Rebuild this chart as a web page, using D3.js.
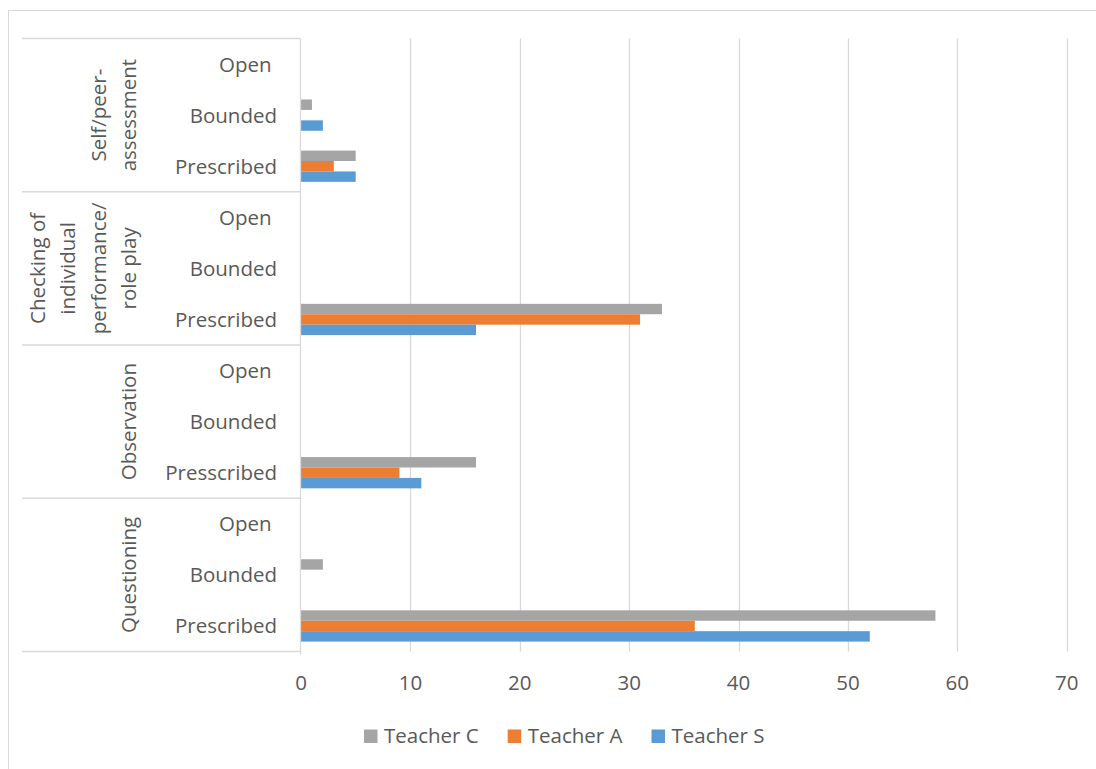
<!DOCTYPE html>
<html>
<head>
<meta charset="utf-8">
<script src="https://cdn.jsdelivr.net/npm/d3@7"></script>
<style>
  html, body { margin: 0; padding: 0; background: #fff; }
  svg { display: block; }
  text { font-family: "Open Sans", sans-serif; fill: #595959; }
</style>
</head>
<body>
<svg id="chart" width="1096" height="769"></svg>
<script>
// ---- data ----
const groupLines = [
  ["Self/peer-", "assessment"],
  ["Checking of", "individual", "performance/", "role play"],
  ["Observation"],
  ["Questioning"]
];
const subLabels = [
  ["Open ", "Bounded", "Prescribed"],
  ["Open ", "Bounded", "Prescribed"],
  ["Open ", "Bounded", "Presscribed"],
  ["Open ", "Bounded", "Prescribed"]
];
const seriesNames = ["Teacher C", "Teacher A", "Teacher S"];
const seriesColors = ["#A5A5A5", "#ED7D31", "#5B9BD5"];
// rows top to bottom: group by group, Open / Bounded / Prescribed
const teacherC = [0, 1, 5, 0, 0, 33, 0, 0, 16, 0, 2, 58];
const teacherA = [0, 0, 3, 0, 0, 31, 0, 0, 9, 0, 0, 36];
const teacherS = [0, 2, 5, 0, 0, 16, 0, 0, 11, 0, 0, 52];
const xTicks = [0, 10, 20, 30, 40, 50, 60, 70];

// ---- build ----
const seriesValues = [teacherC, teacherA, teacherS];
const rows = [];
subLabels.forEach((subs, g) => subs.forEach((s, j) => rows.push({ id: g + "-" + j, g, label: s })));

const svg = d3.select("#chart");
const FS = 20.5;

// chart border (only top and left visible in frame)
svg.append("rect").attr("x", 8.5).attr("y", 10.5).attr("width", 1200).attr("height", 1000)
  .attr("fill", "none").attr("stroke", "#d9d9d9").attr("stroke-width", 1);

const plotTop = 38.5, plotBottom = 651.5, plotLeft = 301, plotRight = 1066.7;
const x = d3.scaleLinear().domain([0, 70]).range([plotLeft, plotRight]);
const y = d3.scaleBand().domain(rows.map(r => r.id)).range([plotTop, plotBottom]).padding(0);
const yInner = d3.scaleBand().domain(seriesNames).range([0, y.bandwidth()]).paddingInner(0).paddingOuter(0.95);

// gridlines
svg.append("g").selectAll("line").data(xTicks.filter(t => t > 0)).join("line")
  .attr("x1", d => Math.round(x(d)) + 0.5).attr("x2", d => Math.round(x(d)) + 0.5)
  .attr("y1", plotTop).attr("y2", plotBottom)
  .attr("stroke", "#d9d9d9").attr("stroke-width", 1.3);

// bars
const bars = svg.append("g");
seriesNames.forEach((name, si) => {
  bars.append("g").selectAll("rect").data(rows.map((r, i) => ({ r, v: seriesValues[si][i] }))).join("rect")
    .attr("x", x(0))
    .attr("y", d => y(d.r.id) + yInner(name))
    .attr("width", d => x(d.v) - x(0))
    .attr("height", yInner.bandwidth())
    .attr("fill", seriesColors[si]);
});

// category axis line
svg.append("line").attr("x1", 300.5).attr("x2", 300.5).attr("y1", plotTop).attr("y2", plotBottom + 3)
  .attr("stroke", "#d9d9d9").attr("stroke-width", 1.3);

// group separators
const groupBounds = d3.range(groupLines.length + 1).map(g => g < groupLines.length ? y(g + "-0") : plotBottom);
svg.append("g").selectAll("line").data(groupBounds).join("line")
  .attr("x1", 22).attr("x2", 300).attr("y1", d => d).attr("y2", d => d)
  .attr("stroke", "#d9d9d9").attr("stroke-width", 1.3);

// sub-category labels
svg.append("g").selectAll("text").data(rows).join("text")
  .attr("x", 277).attr("y", d => y(d.id) + y.bandwidth() / 2 + 7.5)
  .attr("text-anchor", "end").style("white-space", "pre")
  .attr("font-size", FS).text(d => d.label);

// group labels (rotated)
groupLines.forEach((lines, g) => {
  const cy = (groupBounds[g] + groupBounds[g + 1]) / 2;
  const n = lines.length;
  const t = svg.append("text").attr("font-size", FS).attr("text-anchor", "middle")
    .attr("transform", `translate(0,${cy}) rotate(-90)`);
  lines.forEach((ln, i) => {
    t.append("tspan").attr("x", 0).attr("y", 136 - (n - 1 - i) * 30.5).text(ln);
  });
});

// x axis tick labels
svg.append("g").selectAll("text").data(xTicks).join("text")
  .attr("x", d => x(d)).attr("y", 690).attr("text-anchor", "middle")
  .attr("font-size", FS).text(d => d);

// legend
const legend = svg.append("g");
let lx = 364;
seriesNames.forEach((name, i) => {
  legend.append("rect").attr("x", lx).attr("y", 729.5).attr("width", 13.5).attr("height", 13.5).attr("fill", seriesColors[i]);
  const tx = legend.append("text").attr("x", lx + 20).attr("y", 743).attr("font-size", FS).text(name);
  const w = tx.node().getComputedTextLength();
  lx = lx + 20 + w + 29;
});
</script>
</body>
</html>
